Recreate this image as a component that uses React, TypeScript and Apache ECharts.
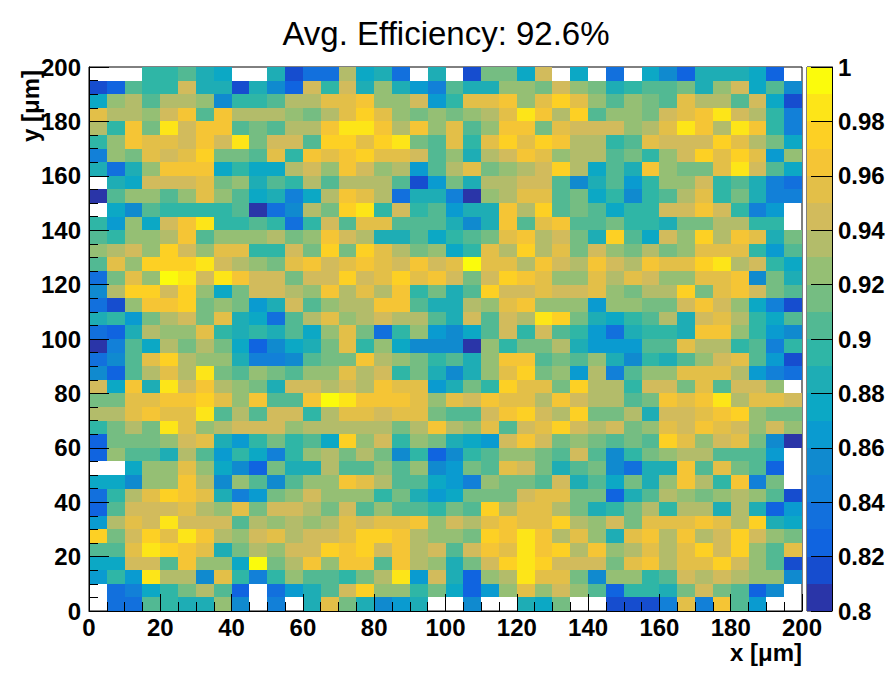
import React, { useEffect, useRef } from "react";
import * as echarts from "echarts";

const titleText = "Avg. Efficiency: 92.6%";
const xTitle = "x [\u03bcm]";
const yTitle = "y [\u03bcm]";
const binWidth = 5;

// Colour of each 0.01-wide level, from 0.80 up to 1.00
const palette = [
  "#2a35a8", "#164dcf", "#1064e0", "#1270dd", "#1280d8",
  "#108acf", "#0a9bd0", "#0ca8c5", "#1eadb5", "#2fb6a6",
  "#52b993", "#75bd82", "#95bf74", "#b3bc6a", "#d2bb5c",
  "#e3bf48", "#f5c535", "#fdd024", "#fde518", "#fbfb0c",
];

// Efficiency level in percent per 5 um bin, rows from y=200 down to y=0; 0 = empty bin
const efficiencyRows = [
  [0,0,0,89,89,90,88,87,0,0,88,81,83,83,93,87,88,83,0,88,0,81,91,91,87,94,0,87,0,83,0,87,85,82,88,88,88,87,82,0],
  [81,82,90,89,89,94,88,88,81,88,85,82,94,89,94,88,92,88,86,84,90,88,88,92,92,91,94,92,91,88,89,90,90,91,88,92,94,87,90,85],
  [87,92,93,90,93,93,92,85,89,89,90,93,93,95,95,96,92,92,94,86,89,95,95,96,92,95,97,95,92,90,92,91,90,95,93,93,90,94,87,81],
  [95,93,93,92,94,96,90,96,93,93,93,92,91,93,95,97,95,92,91,92,91,92,93,95,98,96,93,97,90,92,92,91,94,95,96,98,94,93,89,84],
  [93,89,96,91,98,94,96,96,90,91,90,93,93,96,98,98,96,93,96,92,95,90,92,96,96,91,95,94,94,94,92,93,95,98,96,93,98,96,89,84],
  [89,92,96,95,95,94,96,94,98,91,94,94,90,97,97,95,97,98,91,90,95,89,95,97,95,97,96,93,93,89,90,95,94,94,94,97,95,93,91,87],
  [84,92,91,95,94,95,97,91,91,90,95,89,96,95,96,97,95,95,94,90,92,88,93,94,96,95,92,93,93,90,91,89,92,94,97,95,97,95,86,92],
  [88,83,88,92,96,96,96,87,89,87,87,93,94,92,96,94,92,93,86,90,93,95,91,92,93,94,97,93,87,90,88,96,92,91,91,95,98,94,90,87],
  [0,88,87,94,94,94,95,91,92,88,90,89,93,90,93,93,93,90,81,86,91,88,93,93,94,94,90,85,88,90,86,89,92,92,94,89,90,88,84,83],
  [80,90,92,92,90,92,95,92,90,87,88,84,87,93,96,95,93,83,88,88,84,80,92,93,95,95,90,91,87,89,85,89,90,93,95,89,91,88,84,84],
  [0,87,85,90,89,89,89,89,90,80,83,85,93,91,97,98,89,94,89,90,86,88,88,96,93,97,90,91,90,87,89,89,94,94,96,94,89,84,86,0],
  [89,86,92,87,94,96,98,89,89,90,89,83,89,94,90,95,95,90,90,90,88,85,88,96,90,95,96,90,90,91,89,89,88,91,91,93,93,89,89,0],
  [90,89,92,92,93,96,90,92,92,92,93,91,92,96,94,93,88,88,90,87,89,90,91,95,96,93,94,91,88,97,90,87,94,92,97,93,96,95,88,91],
  [92,93,94,92,97,94,92,95,95,89,89,94,91,97,91,97,95,93,91,92,87,89,95,93,97,93,95,91,94,92,91,93,91,92,95,95,95,89,86,90],
  [90,95,92,97,97,97,98,94,93,92,91,95,96,94,95,96,95,94,96,94,95,99,95,95,93,96,94,93,96,94,93,96,95,95,97,98,93,94,89,87],
  [83,91,95,92,99,98,94,98,96,94,94,91,94,94,97,94,95,97,95,96,94,91,94,97,96,95,92,92,95,93,95,94,92,92,95,95,96,85,91,88],
  [85,93,97,97,94,97,92,87,91,94,94,93,92,96,93,95,93,96,89,91,88,90,97,94,94,95,94,94,95,92,91,93,93,97,91,95,96,94,91,90],
  [83,81,92,96,96,97,91,92,91,86,88,94,90,92,93,93,96,96,90,88,88,93,92,95,96,92,92,92,86,92,92,91,91,94,96,94,92,87,84,81],
  [88,89,86,91,93,94,91,95,88,87,83,90,93,95,92,93,94,93,93,90,88,94,90,94,93,98,97,91,88,87,89,90,93,88,94,95,93,89,87,90],
  [83,82,88,93,92,92,95,89,88,89,88,90,87,92,95,91,83,89,92,86,85,87,90,94,89,94,90,89,86,83,88,89,89,88,96,96,92,89,86,85],
  [80,84,90,87,93,91,93,91,87,82,85,87,88,91,95,89,92,87,85,85,85,80,92,89,91,91,93,88,86,86,86,90,90,95,93,93,89,90,84,89],
  [83,85,90,95,97,93,92,92,88,84,84,85,90,91,91,96,93,92,91,89,90,88,92,96,96,90,91,90,92,88,85,89,88,90,92,94,95,90,86,81],
  [85,82,90,93,95,93,98,91,90,92,91,90,92,92,95,93,94,89,91,88,85,88,92,95,97,91,92,86,93,84,90,92,92,95,95,95,93,86,84,83],
  [94,87,96,88,98,94,96,93,92,91,88,94,94,93,94,93,96,95,95,86,88,91,89,97,95,95,91,97,93,93,89,94,94,91,95,90,94,94,92,0],
  [91,91,95,95,96,96,97,95,92,96,90,90,96,99,98,96,96,96,95,92,95,94,96,95,95,93,96,94,93,93,90,91,96,95,96,98,93,95,95,94],
  [93,93,95,96,95,95,98,90,93,90,94,94,89,93,95,95,94,95,95,91,90,90,94,96,97,94,93,97,91,91,93,88,94,94,95,96,97,92,91,91],
  [89,91,93,91,98,95,92,93,94,94,94,92,93,93,93,93,93,91,93,96,93,92,95,90,94,95,97,94,93,94,91,92,95,94,96,95,94,92,94,92],
  [82,91,91,91,92,94,95,88,86,89,91,89,90,87,97,92,94,89,92,91,88,87,86,94,96,94,91,92,91,90,91,90,97,95,92,94,95,91,85,80],
  [82,92,90,90,88,93,90,86,89,87,84,89,92,93,91,93,91,85,89,82,85,89,90,92,92,91,90,94,90,85,89,91,92,93,93,90,90,90,86,0],
  [0,0,87,92,92,95,92,87,85,82,91,88,88,93,90,90,92,90,92,85,86,91,90,95,94,91,88,90,91,85,83,88,88,96,90,95,91,90,82,0],
  [87,87,85,92,92,96,93,85,92,90,85,90,92,92,96,95,93,90,90,87,86,84,92,91,91,90,94,88,90,87,91,88,92,96,93,89,96,84,91,0],
  [83,89,93,95,97,96,95,88,84,86,91,92,94,92,92,92,89,91,88,86,87,91,91,91,94,95,95,91,91,82,88,90,93,92,91,92,93,92,90,81],
  [82,90,94,94,94,95,93,92,95,91,94,94,93,91,94,90,92,90,90,89,91,90,97,93,95,95,93,91,88,89,91,93,89,93,93,88,93,88,82,86],
  [86,93,95,94,98,94,94,94,90,93,92,93,92,93,95,94,95,95,96,92,94,93,95,96,95,95,97,93,92,94,91,95,95,95,96,95,93,97,88,87],
  [97,91,94,97,95,98,96,93,92,94,95,93,94,94,95,97,97,96,93,92,92,91,97,96,98,96,93,95,92,88,95,96,93,96,93,94,97,94,92,91],
  [90,90,95,98,97,96,95,88,91,93,92,94,94,97,96,97,94,96,93,94,90,94,96,95,98,96,97,93,96,92,93,95,93,95,97,94,97,92,90,95],
  [87,87,94,94,90,96,92,92,87,99,91,93,96,92,96,96,90,96,93,92,88,91,94,97,98,97,94,94,94,91,95,96,93,95,95,97,94,92,90,81],
  [86,89,86,98,93,93,85,95,89,84,89,92,90,90,89,91,93,98,86,94,88,82,92,93,98,95,95,91,85,92,92,89,90,94,93,94,93,92,92,85],
  [0,83,84,87,89,91,93,90,82,0,83,86,88,90,94,97,92,92,89,91,87,82,86,92,95,92,94,92,90,82,89,89,88,91,94,91,90,82,85,0],
  [0,83,83,90,89,88,88,92,85,0,84,0,88,95,91,88,85,86,88,0,0,85,0,0,88,87,91,0,0,81,81,81,84,95,84,96,90,86,0,0],
];

const xTicksMax = 200;
const barMin = 80;
const barLevels = palette.map((_, i) => barMin + i);

const FONT = "'Liberation Sans', Arial, sans-serif";

const cellData: number[][] = [];
efficiencyRows.forEach((row, r) => {
  row.forEach((level, c) => {
    if (level > 0) {
      cellData.push([c * binWidth, xTicksMax - (r + 1) * binWidth, (level + 0.5) / 100, level - barMin]);
    }
  });
});
const barData = barLevels.map((l, i) => [l / 100, (l + 1) / 100, i]);

function renderCell(_: any, api: any) {
  const x = api.value(0);
  const y = api.value(1);
  const a = api.coord([x, y + binWidth]);
  const b = api.coord([x + binWidth, y]);
  const x0 = Math.round(a[0]);
  const y0 = Math.round(a[1]);
  const x1 = Math.round(b[0]);
  const y1 = Math.round(b[1]);
  return {
    type: "rect",
    shape: { x: x0, y: y0, width: x1 - x0, height: y1 - y0 },
    style: { fill: palette[api.value(3)], stroke: "none" },
  };
}

function renderBand(_: any, api: any) {
  const a = api.coord([0, api.value(1)]);
  const b = api.coord([1, api.value(0)]);
  const y0 = Math.round(a[1]);
  const y1 = Math.round(b[1]);
  return {
    type: "rect",
    shape: { x: a[0], y: y0, width: b[0] - a[0], height: y1 - y0 },
    style: { fill: palette[api.value(2)], stroke: "none" },
  };
}

export default function App() {
  const ref = useRef<HTMLDivElement>(null);
  useEffect(() => {
    const chart = echarts.init(ref.current!, null, { renderer: "svg" });
    const tickLabel = { color: "#000", fontFamily: FONT, fontWeight: "bold" as const, fontSize: 24 };
    chart.setOption({
      animation: false,
      backgroundColor: "#fff",
      title: {
        text: titleText,
        left: "center",
        top: 12,
        textStyle: { color: "#000", fontFamily: FONT, fontWeight: "normal", fontSize: 33 },
      },
      grid: [
        { left: 89, top: 67, width: 713, height: 544, show: true, borderColor: "#000", borderWidth: 1, backgroundColor: "#fff" },
        { left: 807, top: 67, width: 25, height: 544, show: true, borderColor: "#000", borderWidth: 1, backgroundColor: "#fff" },
      ],
      xAxis: [
        {
          type: "value", gridIndex: 0, min: 0, max: 200, interval: 20, z: 10,
          splitLine: { show: false },
          axisLine: { show: true, onZero: false, lineStyle: { color: "#000", width: 1 } },
          axisTick: { show: true, inside: true, length: 17, lineStyle: { color: "#000", width: 1 } },
          minorTick: { show: true, splitNumber: 4, length: 9, lineStyle: { color: "#000", width: 1 } },
          axisLabel: { ...tickLabel, margin: 4 },
          name: xTitle,
          nameLocation: "end",
          nameGap: 0,
          nameMoveOverlap: false,
          nameTextStyle: { color: "#000", fontFamily: FONT, fontWeight: "bold", fontSize: 24, align: "right", verticalAlign: "top", padding: [29, 0, 0, 0] },
        },
        { type: "value", gridIndex: 1, min: 0, max: 1, show: false },
      ],
      yAxis: [
        {
          type: "value", gridIndex: 0, min: 0, max: 200, interval: 20, z: 10,
          splitLine: { show: false },
          axisLine: { show: true, onZero: false, lineStyle: { color: "#000", width: 1 } },
          axisTick: { show: true, inside: true, length: 20, lineStyle: { color: "#000", width: 1 } },
          minorTick: { show: true, splitNumber: 4, length: 9, lineStyle: { color: "#000", width: 1 } },
          axisLabel: { ...tickLabel, margin: 8, padding: [4, 0, 0, 0] },
          name: yTitle,
          nameLocation: "end",
          nameGap: 0,
          nameRotate: 90,
          nameMoveOverlap: false,
          nameTextStyle: { color: "#000", fontFamily: FONT, fontWeight: "bold", fontSize: 24, align: "right", verticalAlign: "bottom", padding: [0, 3, 47, 0] },
        },
        {
          type: "value", gridIndex: 1, min: 0.8, max: 1, interval: 0.02, position: "right", z: 10,
          splitLine: { show: false },
          axisLine: { show: true, onZero: false, lineStyle: { color: "#000", width: 1 } },
          axisTick: { show: true, inside: true, length: 21, lineStyle: { color: "#000", width: 1 } },
          axisLabel: { ...tickLabel, margin: 6, padding: [2, 0, 0, 0] },
        },
      ],
      series: [
        {
          type: "custom", xAxisIndex: 0, yAxisIndex: 0, data: cellData, renderItem: renderCell,
          encode: { x: 0, y: 1 }, silent: true, clip: false,
        },
        {
          type: "custom", xAxisIndex: 1, yAxisIndex: 1, data: barData, renderItem: renderBand,
          encode: { y: [0, 1] }, silent: true, clip: false,
        },
      ],
    });
    return () => chart.dispose();
  }, []);
  return <div ref={ref} style={{ position: "fixed", left: 0, top: 0, width: 892, height: 679 }} />;
}
